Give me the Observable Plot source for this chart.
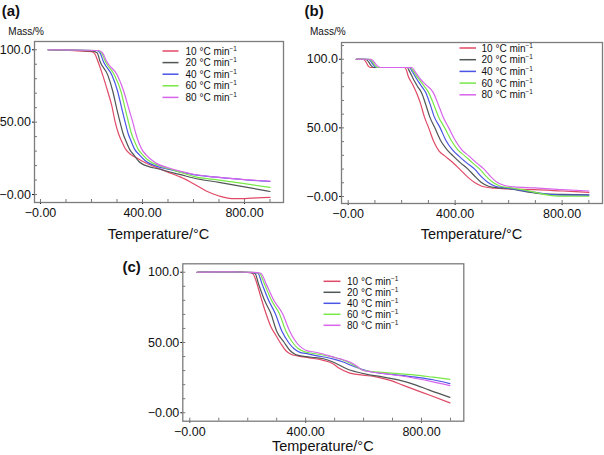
<!DOCTYPE html>
<html><head><meta charset="utf-8">
<script src="https://cdn.jsdelivr.net/npm/d3@7"></script>
<script src="https://cdn.jsdelivr.net/npm/@observablehq/plot@0.6"></script>
<style>
body{margin:0;background:#fff;}
#chart{position:relative;width:604px;height:455px;overflow:hidden;background:#fff;font-family:"Liberation Sans",Arial,Helvetica,sans-serif;}
.panel{position:absolute;}
</style></head><body><div id="chart"></div>
<script>
// ---------- labels / categories ----------
const rates = ["10 °C min", "20 °C min", "40 °C min", "60 °C min", "80 °C min"];
const colors = ["#e04a66", "#505656", "#4a55e6", "#78e846", "#d864ec"];
const xTicks = [0, 400, 800];
const xTickLabels = ["−0.00", "400.00", "800.00"];
const yTicks = [0, 50, 100];
const yTickLabels = ["−0.00", "50.00", "100.0"];
const xLabel = "Temperature/°C";
const yLabel = "Mass/%";
const panelNames = ["(a)", "(b)", "(c)"];

// ---------- panel (a): [temperature °C, mass %] ----------
const a10 = [[30,100],[100,99.7],[150,99.2],[200,98.7],[212,97.5],[225,92],[244,82.5],[264,71],[280,61],[293,50],[306,42],[319,36.6],[335,31],[356,27.4],[380,25],[400,23],[450,19],[500,15.5],[550,12],[600,7.5],[650,2.5],[700,-1],[750,-2.8],[800,-2.8],[850,-2.3],[900,-2]];
const a20 = [[30,100],[100,99.8],[150,99.5],[200,99.2],[222,98],[234,91.7],[264,82.5],[284,71],[298,60],[312,50],[324,42],[336,36.6],[350,31],[366,27.4],[385,23],[400,21],[425,19.3],[460,17.8],[500,15.9],[550,13.7],[600,11.4],[700,8.4],[800,5.3],[900,2.1]];
const a40 = [[30,100],[150,99.7],[220,99.5],[233,98],[247,91.7],[280,82.5],[303,71],[318,60],[332,50],[344,42],[356,36.6],[370,31],[388,27.4],[410,23.5],[460,19.3],[500,17.5],[550,15.5],[600,13.7],[700,11.8],[800,10.2],[900,9]];
const a60 = [[30,100],[150,99.7],[225,99.5],[239,98],[255,91.7],[290,82.5],[316,71],[331,60],[345,50],[357,42],[369,36.6],[384,31],[401,27.4],[420,24],[460,20.3],[500,18],[550,15.3],[600,12.6],[700,10],[800,7.5],[900,5]];
const a80 = [[30,100],[150,99.7],[228,99.5],[243,98],[260,91.7],[301,82.5],[327,71],[345,60],[362,50],[374,42],[384,36.6],[398,31],[414,27.4],[435,24],[460,21],[500,18.5],[550,16],[600,14],[700,11.8],[800,10.3],[900,9.2]];

// ---------- panel (b) ----------
const b10 = [[30,100],[55,100],[65,98.5],[75,95],[85,94],[150,94],[210,94],[218,92],[224,88],[240,82],[255,75.7],[270,68],[285,58],[301,50],[320,40],[340,33],[361,29.6],[390,25],[417,19.9],[445,14.5],[473,10.2],[500,7.5],[550,6],[600,5.5],[700,5],[800,4],[900,3]];
const b20 = [[30,100],[65,100],[75,98.5],[85,95.5],[95,94],[150,94],[220,94],[230,91],[245,85],[260,80],[274,75.7],[290,67],[305,58],[324,50],[345,41],[370,34],[392,29.6],[420,24.5],[448,19.9],[470,15.5],[498,10.2],[525,7.5],[560,6.3],[600,5.8],[650,4],[700,2.5],[750,1.7],[800,1.5],[900,1.2]];
const b40 = [[30,100],[75,100],[85,98.5],[95,95.5],[105,94],[150,94],[228,94],[240,91],[255,86],[272,81],[290,75.7],[305,68],[322,58],[344,50],[365,41],[390,34],[413,29.6],[443,24.5],[473,19.9],[498,14.5],[523,10.2],[550,7.5],[590,6.3],[630,5],[700,3],[750,1.5],[800,1],[900,1]];
const b60 = [[30,100],[80,100],[90,98.5],[100,95.5],[110,94],[150,94],[232,94],[245,91],[262,86],[282,81],[301,75.7],[318,68],[338,58],[361,50],[385,41],[410,34],[436,29.6],[465,24.5],[492,19.9],[517,14.5],[542,10.2],[570,7.5],[610,6.3],[650,5],[700,3],[770,0.5],[800,0.3],[900,0.2]];
const b80 = [[30,100],[85,100],[95,98.5],[107,95.5],[120,94],[150,94],[238,94],[250,91],[268,86],[290,81.5],[318,75.7],[335,68],[355,58],[376,50],[400,41],[425,34],[451,29.6],[480,24.5],[508,19.9],[533,14.5],[558,10.2],[585,8],[620,7],[700,6.3],[800,5],[900,4]];

// ---------- panel (c) ----------
const c10 = [[25,100],[100,100.3],[150,100.2],[200,99.8],[217,99.1],[228,94.3],[245,82.5],[263,70.6],[280,61.2],[297,55.2],[314,49.3],[332,44.1],[349,41.7],[372,40.5],[412,39.1],[458,37.5],[493,35.1],[516,31.6],[550,28.4],[597,26.8],[643,25.6],[689,23.2],[735,19.7],[781,16.1],[827,12.6],[898,7]];
const c20 = [[25,100],[100,100.3],[150,100.2],[200,99.9],[225,99.2],[237,91.9],[258,80],[280,70.6],[300,58],[326,50],[345,44.5],[365,41.5],[383,40.5],[420,39.5],[458,38.6],[490,36.5],[516,34],[545,31],[573,29.2],[620,27],[665,25.6],[723,23.2],[781,19.7],[827,16.1],[898,11]];
const c40 = [[25,100],[100,100.3],[150,100.2],[210,99.9],[235,99.3],[249,91.9],[272,80],[295,70.6],[318,58],[341,50],[360,45.5],[380,43],[401,42.2],[440,40.5],[470,39.5],[500,38],[527,36.3],[560,33.5],[597,30.8],[630,29],[665,28],[720,26.8],[781,25.3],[840,23.5],[898,20.7]];
const c60 = [[25,100],[100,100.3],[150,100.2],[215,99.9],[240,99.3],[257,91.9],[282,80],[309,70.6],[332,58],[355,50],[375,45.5],[395,43.5],[412,42.7],[450,41.5],[481,40.3],[510,38.8],[539,36.7],[570,33.5],[597,30.3],[630,29.3],[665,28.7],[720,27.8],[781,26.8],[840,25.3],[898,23.8]];
const c80 = [[25,100],[100,100.3],[150,100.2],[220,99.9],[245,99.3],[263,91.9],[290,80],[320,70.6],[345,58],[368,50],[388,46],[406,44],[424,43.4],[460,41.8],[493,39.8],[520,38.3],[550,36.3],[575,33.5],[597,30.3],[630,29],[665,28],[720,26.5],[781,24.4],[840,22],[898,19.3]];

// ---------- layout ----------
const panels = [
  {series:[a10,a20,a40,a60,a80], left:0, top:0, width:300, height:250, ml:34, mr:17, mt:41, mb:48,
   xDomain:[-23.5,953], yDomain:[-5.5,105.7], yMinorMax:100,
   title:{x:1.7,y:16}, ylab:{x:8.3,y:35}, xlab:{y:238.5},
   legend:{x1:162.5, x2:178.5, tx:185.5, y0:51, dy:11.6}},
  {series:[b10,b20,b40,b60,b80], left:300, top:0, width:304, height:250, ml:41, mr:2, mt:42, mb:47,
   xDomain:[-25,951], yDomain:[-5.1,112.2], yMinorMax:110,
   title:{x:304.5,y:16}, ylab:{x:310,y:35}, xlab:{y:238.5},
   legend:{x1:459.5, x2:476, tx:481.5, y0:48, dy:11.7}},
  {series:[c10,c20,c40,c60,c80], left:120, top:250, width:360, height:205, ml:62.3, mr:16.7, mt:13.3, mb:34.3,
   xDomain:[-24.2,946], yDomain:[-6,106], yMinorMax:100,
   title:{x:122.5,y:272}, ylab:null, xlab:{y:451},
   legend:{x1:323.5, x2:340.5, tx:347, y0:281.3, dy:11}}
];

const chart = document.getElementById("chart");
const font = '"Liberation Sans", Arial, Helvetica, sans-serif';

panels.forEach(p => {
  const frameW = p.width - p.ml - p.mr;
  const frameH = p.height - p.mt - p.mb;
  const yMinor = d3.range(0, p.yMinorMax + 1, 10);
  const xMinor = d3.range(0, 901, 100);
  const svg = Plot.plot({
    width: p.width, height: p.height,
    marginLeft: p.ml, marginRight: p.mr, marginTop: p.mt, marginBottom: p.mb,
    style: {background: "transparent", fontFamily: font, fontSize: "12.5px", color: "#111"},
    x: {domain: p.xDomain, ticks: xTicks, tickFormat: d => xTickLabels[xTicks.indexOf(d)], tickSize: 2, tickPadding: 3.5, label: null},
    y: {domain: p.yDomain, ticks: yTicks, tickFormat: d => yTickLabels[yTicks.indexOf(d)], tickSize: 2, tickPadding: 1.5, label: null},
    marks: [
      Plot.tickY(yMinor, {y: d => d, insetRight: frameW - 3, stroke: "#777", strokeWidth: 1}),
      Plot.tickX(xMinor, {x: d => d, insetTop: frameH - 3, stroke: "#777", strokeWidth: 1}),
      ...p.series.map((s, i) => Plot.line(s, {x: d => d[0], y: d => d[1], stroke: colors[i], strokeWidth: 1.2, curve: "monotone-x"})),
      Plot.frame({stroke: "#7c7c7c", strokeWidth: 1.3})
    ]
  });
  const wrap = document.createElement("div");
  wrap.className = "panel";
  wrap.style.left = p.left + "px";
  wrap.style.top = p.top + "px";
  wrap.appendChild(svg);
  chart.appendChild(wrap);
});

// ---------- annotation overlay (titles, axis names, legends) ----------
const ov = d3.select(chart).append("svg")
  .attr("width", 604).attr("height", 455)
  .style("position", "absolute").style("left", "0px").style("top", "0px")
  .style("font-family", font);

panels.forEach((p, k) => {
  ov.append("text").attr("x", p.title.x).attr("y", p.title.y)
    .attr("font-size", 15).attr("font-weight", "bold").attr("fill", "#111").text(panelNames[k]);
  if (p.ylab) {
    ov.append("text").attr("x", p.ylab.x).attr("y", p.ylab.y)
      .attr("font-size", 10).attr("fill", "#111").text(yLabel);
  }
  const cx = p.left + p.ml + (p.width - p.ml - p.mr) / 2;
  ov.append("text").attr("x", cx).attr("y", p.xlab.y).attr("text-anchor", "middle")
    .attr("font-size", 14.5).attr("fill", "#111").text(xLabel);
  rates.forEach((r, i) => {
    const y = p.legend.y0 + i * p.legend.dy;
    ov.append("line").attr("x1", p.legend.x1).attr("x2", p.legend.x2).attr("y1", y).attr("y2", y)
      .attr("stroke", colors[i]).attr("stroke-width", 1.5);
    const t = ov.append("text").attr("x", p.legend.tx).attr("y", y + 3.6)
      .attr("font-size", 10).attr("fill", "#111");
    t.append("tspan").text(r);
    t.append("tspan").attr("font-size", 6.5).attr("dy", -4).text("−1");
  });
});
</script></body></html>
